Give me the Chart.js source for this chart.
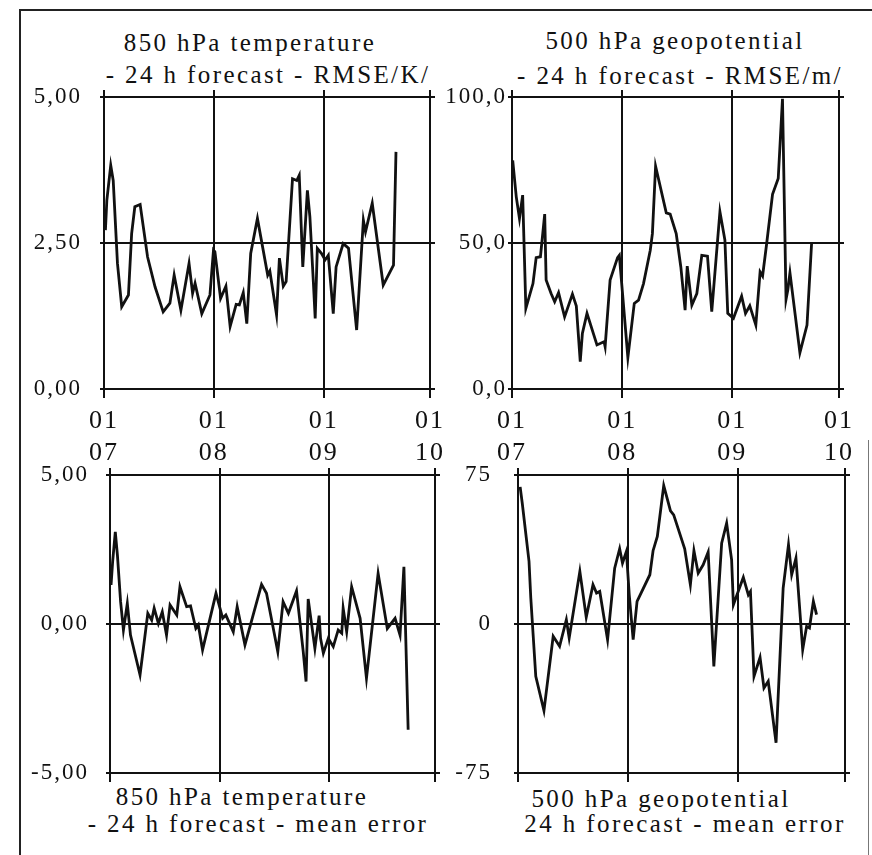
<!DOCTYPE html>
<html>
<head>
<meta charset="utf-8">
<script src="https://cdn.jsdelivr.net/npm/chart.js@4.4.1/dist/chart.umd.min.js"></script>
<style>
  body { margin: 0; background: #fff; }
  #page { position: relative; width: 872px; height: 855px; overflow: hidden; background: #fff; }
  #frame { position: absolute; left: 19px; top: 9px; width: 860px; height: 860px;
           border-left: 2px solid #222; border-top: 2px solid #222; }
  #rightEdge { position: absolute; left: 868px; top: 440px; width: 1px; height: 415px; background: #777; }
  canvas { position: absolute; }
  .title { position: absolute; width: 400px; text-align: center; white-space: pre;
           font-family: "Liberation Serif", serif; font-size: 25px; line-height: 25px;
           letter-spacing: 2.4px; color: #111; }
</style>
</head>
<body>
<div id="page">
  <div id="frame"></div>
  <div id="rightEdge"></div>

  <div class="title" style="left:50px; top:30px;">850 hPa temperature</div>
  <div class="title" style="left:68px; top:62px;">- 24 h forecast - RMSE/K/</div>
  <div class="title" style="left:475px; top:28px;">500 hPa geopotential</div>
  <div class="title" style="left:480px; top:63px;">- 24 h forecast - RMSE/m/</div>
  <div class="title" style="left:42px; top:784px;">850 hPa temperature</div>
  <div class="title" style="left:58px; top:811px;">- 24 h forecast - mean error</div>
  <div class="title" style="left:461px; top:786px;">500 hPa geopotential</div>
  <div class="title" style="left:485px; top:811px;">24 h forecast - mean error</div>

  <canvas id="t850rmse" width="432" height="385" style="left:20px; top:85px;"></canvas>
  <canvas id="z500rmse" width="426" height="385" style="left:440px; top:85px;"></canvas>
  <canvas id="t850me" width="420" height="327" style="left:20px; top:463px;"></canvas>
  <canvas id="z500me" width="426" height="327" style="left:440px; top:463px;"></canvas>
</div>

<script>
// time axis: days since 1 July, month starts
const monthDays = [0, 31, 62, 92];
const dayLabels = ["01", "01", "01", "01"];
const monthLabels = ["07", "08", "09", "10"];

// 850 hPa temperature, 24 h forecast RMSE (K)
const t850RmseDays = [0.4, 0.8, 1.9, 2.6, 3.8, 5, 6.9, 7.8, 8.7, 10.2, 12.3, 14.4, 16.7, 18.6, 19.8,
  21.7, 24, 25, 25.7, 27.6, 29.9, 30.9, 31.3, 32.9, 34.4, 35.6, 37.3, 38.2, 39.3, 40.3,
  41.4, 43.3, 46.2, 46.8, 48.7, 49.5, 50.6, 51.4, 53.2, 54.4, 55.1, 56.1, 57.4, 58.1, 59.1,
  59.6, 60.2, 61.4, 62.4, 63.3, 64.7, 65.5, 67.5, 69, 71.3, 73.2, 73.8, 75.7, 78.8, 81.7, 82.4];
const t850RmseVals = [2.72, 3.23, 3.83, 3.57, 2.15, 1.41, 1.61, 2.66, 3.12, 3.16, 2.26, 1.75, 1.32, 1.47, 1.95,
  1.35, 2.15, 1.64, 1.81, 1.29, 1.61, 2.38, 2.35, 1.55, 1.76, 1.07, 1.45, 1.44, 1.65, 1.12,
  2.32, 2.92, 1.95, 2.02, 1.27, 2.24, 1.76, 1.84, 3.60, 3.57, 3.66, 2.09, 3.40, 2.95, 1.81,
  1.21, 2.41, 2.32, 2.21, 2.29, 1.29, 2.09, 2.49, 2.41, 1.01, 2.89, 2.69, 3.18, 1.78, 2.12, 4.06];

// 500 hPa geopotential, 24 h forecast RMSE (m)
const z500RmseDays = [0.2, 1.2, 2.1, 3, 3.9, 5.9, 6.8, 8, 9.2, 9.6, 11, 12, 13.1, 14.8, 17,
  18.1, 19.2, 19.8, 21.1, 23.9, 25.9, 26.2, 27.6, 29.7, 30.2, 32.6, 34.4, 35.6, 37,
  38.9, 39.5, 40.4, 43.4, 44.5, 46.2, 47.5, 48.7, 49.3, 50.6, 52, 53.4, 55, 56.2, 58.5,
  59.9, 60.7, 62.3, 64.6, 65.7, 66.9, 68.6, 69.8, 70.5, 71.6, 73.3, 74.9, 76.1, 77.1, 77.6,
  78.2, 81, 83, 84.3];
const z500RmseVals = [78.3, 65.8, 58.4, 66.4, 27.6, 36.1, 45.0, 45.3, 59.9, 37.3, 32.7, 29.9, 33, 24.7, 32.5,
  28.4, 9.4, 19, 25.9, 15.1, 16.2, 14.5, 37.3, 45, 45.8, 10.8, 29.3, 30.4, 36.1,
  47.5, 53.2, 76.3, 60.3, 59.9, 53.2, 41.8, 27, 42.1, 28.7, 32.7, 45.8, 45.5, 26.5, 60.7,
  51, 25.9, 24.2, 31.8, 25.9, 28.5, 21.9, 40.1, 38.7, 49.3, 66.7, 72.1, 99.4, 30.7, 33.9,
  39.8, 12.4, 21.9, 50.1];

// 850 hPa temperature, 24 h forecast mean error (K)
const t850MeDays = [0.3, 0.75, 1.5, 2.1, 3, 3.8, 4.9, 5.8, 8.5, 10.7, 11.8, 12.5, 13.7, 14.8, 16,
  17, 18.9, 19.8, 21.7, 22.8, 24.3, 25, 26.2, 30, 31.9, 32.8, 34.9, 36, 38.2, 42.9,
  44.3, 47.5, 49, 50.5, 52.8, 54.7, 55.5, 56.1, 58, 59.2, 59.6, 60.4, 61.8, 63.2, 64.6,
  65.6, 66, 67, 68.4, 70.8, 72.6, 75.9, 78.5, 80.7, 82.1, 83.2, 84.4];
const t850MeVals = [1.31, 2.09, 3.09, 2.31, 0.75, -0.2, 0.69, -0.37, -1.71, 0.36, 0.13, 0.53, 0.02, 0.41, -0.37,
  0.64, 0.30, 1.25, 0.58, 0.61, -0.15, -0.03, -0.87, 1.03, 0.19, 0.30, -0.26, 0.58, -0.70, 1.33,
  1.03, -0.93, 0.75, 0.36, 1.11, -0.93, -1.93, 0.84, -0.82, 0.28, -0.48, -0.98, -0.48, -0.76, -0.2,
  -0.31, 0.53, -0.26, 1.25, 0.19, -1.82, 1.70, -0.15, 0.19, -0.37, 1.92, -3.55];

// 500 hPa geopotential, 24 h forecast mean error (m)
const z500MeDays = [0.6, 1.2, 3.1, 3.6, 5, 7.3, 9.9, 11.7, 13.6, 14.4, 17.4, 19.2, 21.1, 22.1, 23,
  25.2, 27.2, 28.6, 29.4, 30.5, 31.3, 32.4, 33.5, 37.1, 38, 39.2, 41, 42.9, 43.8, 46.9,
  48.5, 49.5, 50.7, 52.1, 53.5, 55.1, 57.3, 58.7, 60.1, 60.6, 63.4, 64.8, 65.4, 66.4, 68.1,
  69.2, 70.4, 72.6, 74.6, 76.1, 77, 78.2, 80.1, 81.2, 82, 83.1, 84];
const z500MeVals = [69, 60.8, 31.5, 13.1, -26.3, -43.6, -6.2, -11.2, 2.2, -7.0, 26.5, 3.4, 19.8, 15.6, 16.4,
  -7.9, 28.1, 37.9, 30.7, 36.5, 14.7, -7.9, 11.4, 24.8, 36.9, 44.1, 69.7, 57, 54.9, 37.9,
  19.8, 36.9, 25.6, 29.8, 36.2, -21.3, 40.7, 50.8, 32.3, 9.7, 23.5, 14.7, 16.4, -26.3, -16.8,
  -32.2, -28.8, -59.8, 18.1, 39.9, 24.8, 33.2, -12.9, -1.2, -2.0, 11.4, 4.7];

const ink = "#111";
const serif = "'Liberation Serif', serif";

// scanned print has wide letter spacing
const spacing = {
    id: "spacing",
    beforeDraw(chart) { chart.ctx.letterSpacing = "2px"; }
};

// fixed box size, and no extra room for overhanging labels
function fixBox(s, w, h) {
    if (w !== null) s.width = w;
    if (h !== null) s.height = h;
    s.paddingLeft = 0;
    s.paddingRight = 0;
    s.paddingTop = 0;
    s.paddingBottom = 0;
}

function makeChart(id, days, vals, cfg) {
    const yTicks = [cfg.min, (cfg.min + cfg.max) / 2, cfg.max];
    const setX = s => { s.ticks = monthDays.map(v => ({ value: v })); };
    const setY = s => { s.ticks = yTicks.map(v => ({ value: v })); };

    return new Chart(document.getElementById(id), {
        type: "line",
        data: {
            datasets: [{
                data: days.map((d, i) => ({ x: d, y: vals[i] })),
                borderColor: ink,
                borderWidth: 2.8,
                pointRadius: 0,
                tension: 0,
                fill: false
            }]
        },
        plugins: [spacing],
        options: {
            responsive: false,
            animation: false,
            layout: { padding: 0 },
            plugins: { legend: { display: false }, tooltip: { enabled: false } },
            scales: {
                x: {
                    type: "linear", min: 0, max: 92, position: "bottom",
                    afterBuildTicks: setX,
                    afterFit: s => fixBox(s, null, cfg.bottom),
                    grid: { color: ink, lineWidth: 2, tickLength: 9 },
                    border: { display: false },
                    ticks: {
                        display: cfg.showX, autoSkip: false, maxRotation: 0, padding: 8,
                        color: ink, font: { family: serif, size: 26, lineHeight: 1.2 },
                        callback: (v, i) => [dayLabels[i], monthLabels[i]]
                    }
                },
                xTop: {
                    type: "linear", min: 0, max: 92, position: "top",
                    afterBuildTicks: setX,
                    afterFit: s => fixBox(s, null, 12),
                    grid: { color: ink, lineWidth: 2, tickLength: 7, drawOnChartArea: false },
                    border: { display: false },
                    ticks: { display: false }
                },
                y: {
                    min: cfg.min, max: cfg.max, position: "left",
                    afterBuildTicks: setY,
                    afterFit: s => fixBox(s, cfg.left, null),
                    grid: { color: ink, lineWidth: 2, tickLength: 4 },
                    border: { display: false },
                    ticks: {
                        padding: cfg.pad, color: ink,
                        font: { family: serif, size: 23 },
                        callback: cfg.fmt
                    }
                },
                yRight: {
                    min: cfg.min, max: cfg.max, position: "right",
                    afterBuildTicks: setY,
                    afterFit: s => fixBox(s, cfg.right, null),
                    grid: { color: ink, lineWidth: 2, tickLength: 5, drawOnChartArea: false },
                    border: { display: false },
                    ticks: { display: false }
                }
            }
        }
    });
}

const comma = d => v => v.toFixed(d).replace(".", ",");

makeChart("t850rmse", t850RmseDays, t850RmseVals,
    { min: 0, max: 5, fmt: comma(2), showX: true, left: 84, right: 22, bottom: 81, pad: 18 });
makeChart("z500rmse", z500RmseDays, z500RmseVals,
    { min: 0, max: 100, fmt: comma(1), showX: true, left: 72, right: 27, bottom: 81, pad: 1 });
makeChart("t850me", t850MeDays, t850MeVals,
    { min: -5, max: 5, fmt: comma(2), showX: false, left: 90, right: 5, bottom: 17, pad: 17 });
makeChart("z500me", z500MeDays, z500MeVals,
    { min: -75, max: 75, fmt: v => String(v), showX: false, left: 78, right: 21, bottom: 17, pad: 22 });
</script>
</body>
</html>
